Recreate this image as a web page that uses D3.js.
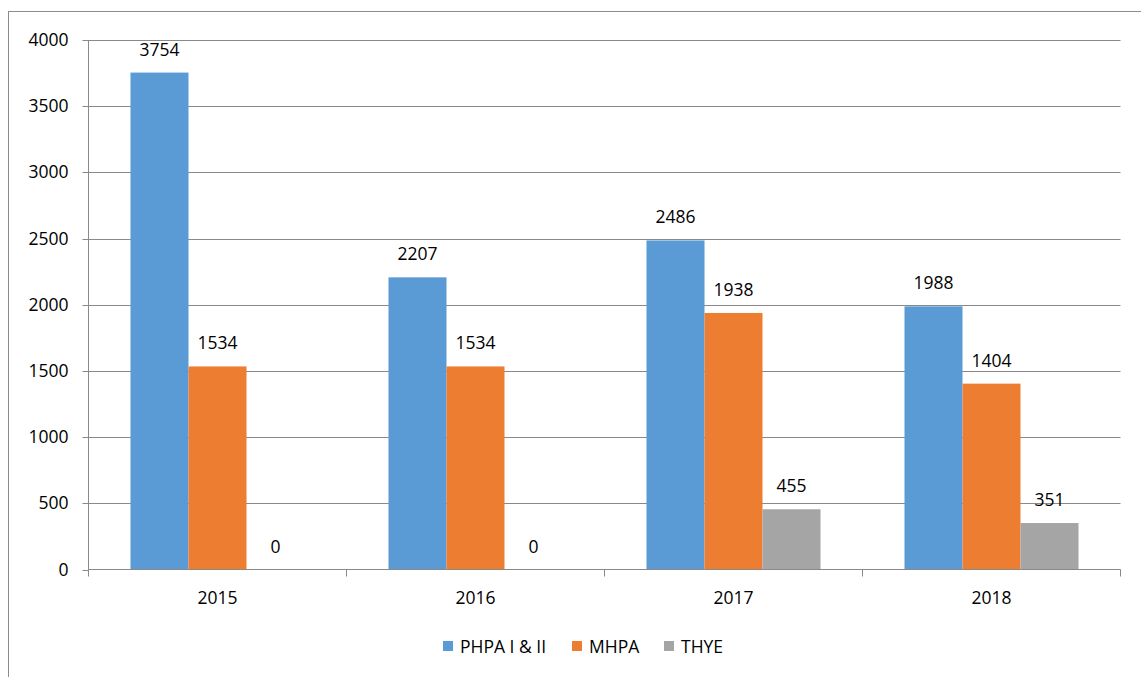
<!DOCTYPE html>
<html><head><meta charset="utf-8">
<script src="https://cdn.jsdelivr.net/npm/d3@7"></script>
<style>body{margin:0;background:#fff}svg{display:block}</style>
</head><body>
<script>
const categories = ["2015","2016","2017","2018"];
const seriesNames = ["PHPA I & II","MHPA","THYE"];
const phpa = [3754,2207,2486,1988];
const mhpa = [1534,1534,1938,1404];
const thye = [0,0,455,351];
const yTicks = [0,500,1000,1500,2000,2500,3000,3500,4000];
const colors = ["#5B9BD5","#ED7D31","#A5A5A5"];
const seriesValues = [phpa,mhpa,thye];

const W=1141,H=677;
const svg=d3.select("body").append("svg").attr("width",W).attr("height",H);
const font="'Open Sans', 'Noto Sans', sans-serif";
const fs="17.5px";
// outer border
svg.append("rect").attr("x",8.5).attr("y",11.5).attr("width",W+10).attr("height",H+10)
  .attr("fill","none").attr("stroke","#8c8c8c").attr("stroke-width",1);

const pLeft=88.5,pRight=1120.5,pTop=40,pBottom=569.5;
const x=d3.scaleBand().domain(categories).range([pLeft,pRight]).paddingInner(0).paddingOuter(0);
const y=d3.scaleLinear().domain([0,4000]).range([pBottom,pTop]);
const groupW=174;
const x1=d3.scaleBand().domain(seriesNames).range([0,groupW]);

// gridlines
svg.append("g").selectAll("line").data(yTicks.filter(d=>d>0)).join("line")
  .attr("x1",pLeft).attr("x2",pRight).attr("y1",d=>Math.round(y(d))+0.5).attr("y2",d=>Math.round(y(d))+0.5)
  .attr("stroke","#898989").attr("stroke-width",1);

// y axis
const ya=svg.append("g").attr("transform",`translate(${pLeft},0)`)
  .call(d3.axisLeft(y).tickValues(yTicks).tickSize(6).tickPadding(14).tickFormat(d3.format("d")));
ya.select(".domain").attr("stroke","#898989").attr("d",`M0,${pTop}V${pBottom}`);
ya.selectAll(".tick line").attr("stroke","#898989");
ya.selectAll(".tick text").attr("font-family",font).attr("font-size",fs).attr("fill","#000");
ya.selectAll(".tick").attr("transform",d=>`translate(0,${Math.round(y(d))+0.5})`);

// bars
const groups=svg.append("g").selectAll("g").data(categories).join("g")
  .attr("transform",d=>`translate(${x(d)+(x.bandwidth()-groupW)/2},0)`);
groups.selectAll("rect").data((c,i)=>seriesNames.map((s,j)=>({s,j,v:seriesValues[j][i]}))).join("rect")
  .attr("x",d=>x1(d.s)).attr("width",x1.bandwidth())
  .attr("y",d=>y(d.v)).attr("height",d=>pBottom-y(d.v))
  .attr("fill",d=>colors[d.j]);
groups.selectAll("text").data((c,i)=>seriesNames.map((s,j)=>({s,j,v:seriesValues[j][i]}))).join("text")
  .attr("x",d=>x1(d.s)+x1.bandwidth()/2).attr("y",d=>y(d.v)-17)
  .attr("text-anchor","middle").attr("font-family",font).attr("font-size",fs).attr("fill","#000")
  .text(d=>d.v);

// x axis
const xa=svg.append("g").attr("transform",`translate(0,${pBottom})`);
xa.append("line").attr("x1",pLeft).attr("x2",pRight).attr("y1",0).attr("y2",0).attr("stroke","#898989");
const bounds=[pLeft].concat(categories.map(c=>x(c)+x.bandwidth()));
xa.selectAll(".tk").data(bounds).join("line").attr("class","tk")
  .attr("x1",d=>Math.floor(d)+0.5).attr("x2",d=>Math.floor(d)+0.5).attr("y1",0).attr("y2",7).attr("stroke","#898989");
xa.selectAll("text").data(categories).join("text")
  .attr("x",d=>x(d)+x.bandwidth()/2).attr("y",34.5).attr("text-anchor","middle")
  .attr("font-family",font).attr("font-size",fs).attr("fill","#000").text(d=>d);

// legend
const legX=[443,572,664];
const lg=svg.append("g").selectAll("g").data(seriesNames).join("g")
  .attr("transform",(d,i)=>`translate(${legX[i]},641)`);
lg.append("rect").attr("width",10).attr("height",10).attr("fill",(d,i)=>colors[i]);
lg.append("text").attr("x",17).attr("y",11.5).attr("font-family",font).attr("font-size",fs).attr("fill","#000").text(d=>d);
</script>
</body></html>
